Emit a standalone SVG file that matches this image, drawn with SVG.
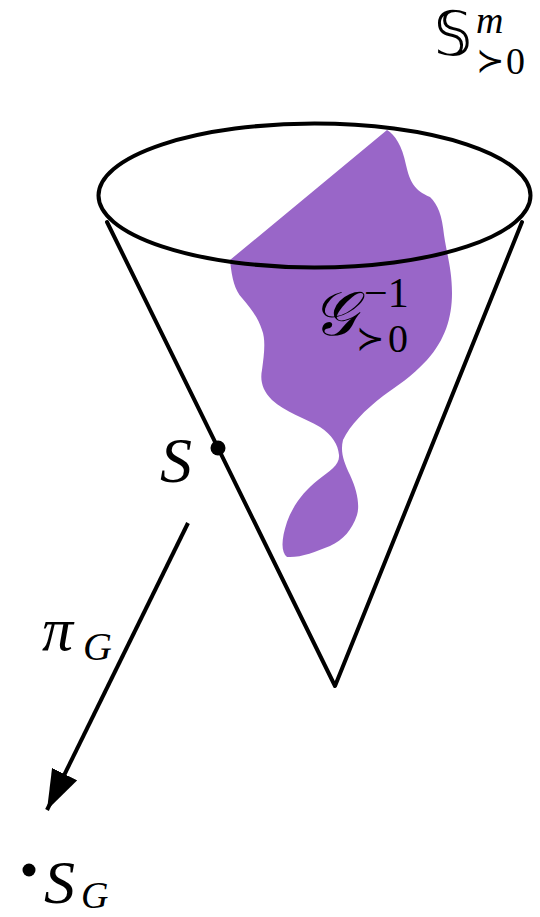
<svg xmlns="http://www.w3.org/2000/svg" width="540" height="917" viewBox="0 0 540 917">
<style>
.ln{fill:none;stroke:#000;stroke-width:4;stroke-linecap:round;stroke-linejoin:round}
.t{font-family:"Liberation Serif","DejaVu Serif",serif;font-style:italic;fill:#000}
.r{font-family:"Liberation Serif","DejaVu Serif",serif;fill:#000}
.m{font-family:"DejaVu Sans","DejaVu Serif",serif;fill:#000}
</style>
<defs>
<marker id="ah" viewBox="0 0 40 28" refX="40" refY="14" markerWidth="40" markerHeight="28" markerUnits="userSpaceOnUse" orient="auto"><path d="M0,0 L40,14 L0,28 z"/></marker>
</defs>
<rect width="540" height="917" fill="#fff"/>
<g id="region">
<path fill="#9966C8" d="M387,130 C395,135 402,145 406,165 C410,182 414,190 430,197 C438,205 442,215 444,235 C447,255 452,270 452,293 C452,318 445,340 427,360 C410,378 398,385 383,396 C365,410 350,425 343,440 C340,452 344,462 350,475 C357,490 360,505 357,515 C352,530 343,540 330,546 C315,552 300,558 287,557 C281,552 281,540 287,522 C293,505 305,490 318,480 C330,471 340,465 339,455 C338,444 332,435 320,427 C305,418 285,412 272,400 C262,390 260,380 262,370 C264,355 266,340 262,330 C258,318 252,310 242,298 C235,290 232,280 230,260 Z"/>
</g>
<g id="cone">
<ellipse class="ln" cx="314.5" cy="195.5" rx="216" ry="72"/>
<path class="ln" d="M107,222 L335,686 L522,222"/>
</g>
<g id="S">
<circle cx="218" cy="448" r="7.5"/>
<text class="t" x="160" y="482" font-size="64">S</text>
</g>
<g id="SG">
<circle cx="29" cy="870" r="6.5"/>
<text class="t" x="44" y="903" font-size="62">S</text>
<text class="t" x="81" y="908" font-size="38">G</text>
</g>
<g id="Sm">
<text class="m" x="434" y="55" font-size="60">𝕊</text>
<text class="t" x="476" y="33" font-size="38">m</text>
<text class="m" x="476" y="72" font-size="34">≻</text>
<text class="r" x="506" y="74" font-size="38">0</text>
</g>
<g id="Ginv">
<text class="t" x="312" y="335" font-size="62">𝒢</text>
<text class="r" x="364" y="307" font-size="42">−1</text>
<text class="m" x="356" y="350" font-size="34">≻</text>
<text class="r" x="388" y="352" font-size="40">0</text>
</g>
<g id="connectors">
<line class="ln" x1="188" y1="523" x2="47" y2="810" marker-end="url(#ah)" style="stroke-linecap:butt"/>
</g>
<g id="piG">
<text class="t" x="42" y="650" font-size="62">π</text>
<text class="t" x="83" y="660" font-size="40">G</text>
</g>
</svg>
